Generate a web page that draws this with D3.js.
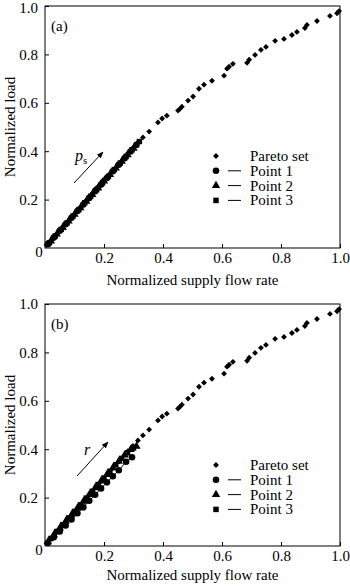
<!DOCTYPE html>
<html>
<head>
<meta charset="utf-8">
<script src="https://cdn.jsdelivr.net/npm/d3@7"></script>
<style>
  body { margin: 0; background: #fff; }
  svg text { font-family: "Liberation Serif", "Times New Roman", serif; fill: #000; }
</style>
</head>
<body>
<div id="chart"></div>
<script>
// Pareto set (same in both panels)
var paretoX = [0.005,0.015,0.024,0.032,0.040,0.047,0.055,0.062,0.070,0.078,0.086,0.094,0.103,0.112,0.122,
  0.133,0.142,0.151,0.162,0.172,0.183,0.196,0.214,0.231,0.251,0.271,0.281,0.298,0.315,0.332,0.353,0.383,
  0.397,0.413,0.451,0.458,0.464,0.485,0.502,0.522,0.539,0.566,0.607,0.617,0.624,0.637,0.685,0.692,0.712,
  0.732,0.749,0.780,0.810,0.837,0.854,0.881,0.888,0.922,0.966,0.990,0.997];
var paretoY = [0.012,0.025,0.037,0.048,0.058,0.068,0.079,0.089,0.099,0.110,0.121,0.131,0.144,0.157,0.170,
  0.186,0.200,0.212,0.228,0.245,0.258,0.279,0.300,0.322,0.350,0.378,0.392,0.414,0.436,0.457,0.481,0.519,
  0.535,0.547,0.568,0.576,0.584,0.609,0.626,0.658,0.675,0.691,0.712,0.741,0.749,0.761,0.765,0.778,0.798,
  0.819,0.831,0.856,0.864,0.880,0.893,0.909,0.922,0.938,0.959,0.970,0.979];

// panel (a): varying p_s
var p1aX = [0.01,0.03,0.05,0.07,0.09,0.11,0.13,0.15,0.17,0.19,0.21,0.23,0.25,0.27,0.29,0.31];
var p1aY = [0.016,0.043,0.071,0.098,0.125,0.153,0.180,0.207,0.235,0.262,0.289,0.317,0.344,0.371,0.399,0.426];
var p2aX = [0.02,0.04,0.06,0.08,0.10,0.12,0.14,0.16,0.18,0.20,0.22,0.24,0.26,0.28,0.30];
var p2aY = [0.029,0.057,0.084,0.111,0.139,0.166,0.193,0.221,0.248,0.276,0.303,0.330,0.358,0.385,0.412];
var p3aX = [0.015,0.035,0.055,0.075,0.095,0.115,0.135,0.155,0.175,0.195,0.215,0.235,0.255,0.275,0.295,0.320];
var p3aY = [0.022,0.050,0.077,0.104,0.132,0.159,0.187,0.214,0.241,0.269,0.296,0.324,0.351,0.378,0.406,0.440];

// panel (b): varying r
var p1bX = [0.01,0.03,0.05,0.07,0.09,0.11,0.13,0.15,0.17,0.19,0.21,0.23,0.25,0.275,0.295];
var p1bY = [0.013,0.036,0.060,0.085,0.110,0.135,0.160,0.187,0.212,0.238,0.263,0.288,0.313,0.348,0.367];
var p2bX = [0.01,0.03,0.05,0.07,0.09,0.11,0.13,0.15,0.17,0.19,0.21,0.23,0.25,0.27,0.29,0.31];
var p2bY = [0.017,0.046,0.074,0.102,0.129,0.157,0.184,0.212,0.240,0.268,0.295,0.323,0.350,0.376,0.398,0.412];
var p3bX = [0.02,0.04,0.06,0.08,0.10,0.12,0.14,0.16,0.18,0.20,0.22,0.24,0.26,0.28,0.30];
var p3bY = [0.031,0.060,0.088,0.116,0.143,0.170,0.198,0.226,0.254,0.281,0.309,0.336,0.362,0.385,0.405];

var tickVals = [0.2, 0.4, 0.6, 0.8, 1.0];
var legendLabels = ["Pareto set", "Point 1", "Point 2", "Point 3"];

function zip(xs, ys) { return xs.map(function(d, i) { return [d, ys[i]]; }); }

var svg = d3.select("#chart").append("svg")
  .attr("width", 350).attr("height", 587);

var panels = [
  { top: 6, label: "(a)", series: [zip(p1aX, p1aY), zip(p2aX, p2aY), zip(p3aX, p3aY)],
    arrow: [[74, 183], [103, 152]], legendY: 156, titleGap: 37 },
  { top: 304, label: "(b)", series: [zip(p1bX, p1bY), zip(p2bX, p2bY), zip(p3bX, p3bY)],
    arrow: [[77, 476], [108, 442]], legendY: 465, titleGap: 34 }
];

var width = 295, height = 242, left = 45;
var shapes = [d3.symbolCircle, d3.symbolTriangle, d3.symbolSquare];
var shapeSizes = [34, 30, 30];

// rotated square looks like the diamonds in the figure
function diamond(cx, cy) {
  return "translate(" + cx + "," + cy + ") rotate(45)";
}

svg.append("defs").append("marker")
  .attr("id", "arrowhead")
  .attr("viewBox", "0 0 10 10")
  .attr("refX", 9).attr("refY", 5)
  .attr("markerWidth", 7).attr("markerHeight", 7)
  .attr("orient", "auto")
  .append("path")
    .attr("d", "M0,1 L10,5 L0,9 Z")
    .attr("fill", "#000");

panels.forEach(function(p, pi) {
  var x = d3.scaleLinear().domain([0, 1]).range([left, left + width]);
  var y = d3.scaleLinear().domain([0, 1]).range([p.top + height, p.top]);

  var g = svg.append("g");

  // frame
  g.append("rect")
    .attr("x", x(0)).attr("y", y(1))
    .attr("width", width).attr("height", height)
    .attr("fill", "none").attr("stroke", "#000").attr("stroke-width", 1);

  // X axis, ticks pointing inward
  var xa = g.append("g")
    .attr("transform", "translate(0," + y(0) + ")")
    .call(d3.axisBottom(x).tickValues(tickVals).tickSizeInner(-4).tickSizeOuter(0)
      .tickFormat(d3.format(".1f")).tickPadding(4));
  xa.select(".domain").remove();
  xa.selectAll("text").style("font-size", "15px");

  // Y axis
  var ya = g.append("g")
    .attr("transform", "translate(" + x(0) + ",0)")
    .call(d3.axisLeft(y).tickValues(tickVals).tickSizeInner(-4).tickSizeOuter(0)
      .tickFormat(d3.format(".1f")).tickPadding(7));
  ya.select(".domain").remove();
  ya.selectAll("text").style("font-size", "15px");
  if (pi === 0) {
    // keep the top label inside the page
    ya.selectAll("text").filter(function(d) { return d === 1; }).attr("dy", "0.45em");
  }

  // shared origin label
  g.append("text")
    .attr("x", x(0) - 6).attr("y", y(0) + 9)
    .attr("text-anchor", "middle")
    .style("font-size", "15px")
    .text("0");

  // axis titles
  g.append("text")
    .attr("x", x(0.5)).attr("y", y(0) + p.titleGap)
    .attr("text-anchor", "middle")
    .style("font-size", "15px")
    .text("Normalized supply flow rate");
  g.append("text")
    .attr("transform", "translate(15," + y(0.5) + ") rotate(-90)")
    .attr("text-anchor", "middle")
    .style("font-size", "15px")
    .text("Normalized load");

  // panel label
  g.append("text")
    .attr("x", 51).attr("y", y(1) + 25)
    .style("font-size", "15px")
    .text(p.label);

  // Pareto set
  g.selectAll(".pareto")
    .data(zip(paretoX, paretoY))
    .enter().append("path")
    .attr("class", "pareto")
    .attr("transform", function(d) { return diamond(x(d[0]), y(d[1])); })
    .attr("d", d3.symbol().type(d3.symbolSquare).size(17))
    .attr("fill", "#000");

  // Point 1..3 lines + markers
  var line = d3.line().x(function(d) { return x(d[0]); }).y(function(d) { return y(d[1]); });
  p.series.forEach(function(s, si) {
    g.append("path").datum(s)
      .attr("d", line)
      .attr("fill", "none").attr("stroke", "#000").attr("stroke-width", 1);
    g.selectAll(".pt" + si)
      .data(s)
      .enter().append("path")
      .attr("class", "pt" + si)
      .attr("transform", function(d) { return "translate(" + x(d[0]) + "," + y(d[1]) + ")"; })
      .attr("d", d3.symbol().type(shapes[si]).size(shapeSizes[si]))
      .attr("fill", "#000");
  });

  // arrow and parameter label
  g.append("line")
    .attr("x1", p.arrow[0][0]).attr("y1", p.arrow[0][1])
    .attr("x2", p.arrow[1][0]).attr("y2", p.arrow[1][1])
    .attr("stroke", "#000").attr("stroke-width", 1)
    .attr("marker-end", "url(#arrowhead)");
  if (pi === 0) {
    var t = g.append("text").attr("x", 75).attr("y", 161).style("font-size", "16px");
    t.append("tspan").style("font-style", "italic").text("p");
    t.append("tspan").attr("dy", 3).style("font-size", "11px").text("s");
  } else {
    g.append("text").attr("x", 84).attr("y", 455)
      .style("font-size", "16px").style("font-style", "italic").text("r");
  }

  // legend
  var lg = g.append("g").attr("transform", "translate(216," + p.legendY + ")");
  legendLabels.forEach(function(lab, li) {
    var row = lg.append("g").attr("transform", "translate(0," + li * 14.8 + ")");
    if (li === 0) {
      row.append("path")
        .attr("transform", "rotate(45)")
        .attr("d", d3.symbol().type(d3.symbolSquare).size(17))
        .attr("fill", "#000");
    } else {
      row.append("path")
        .attr("d", d3.symbol().type(shapes[li - 1]).size(shapeSizes[li - 1]))
        .attr("fill", "#000");
      row.append("line").attr("x1", 12).attr("x2", 25).attr("y1", 0).attr("y2", 0)
        .attr("stroke", "#000").attr("stroke-width", 1);
    }
    row.append("text").attr("x", 34).attr("y", 5)
      .style("font-size", "15px").text(lab);
  });
});
</script>
</body>
</html>
